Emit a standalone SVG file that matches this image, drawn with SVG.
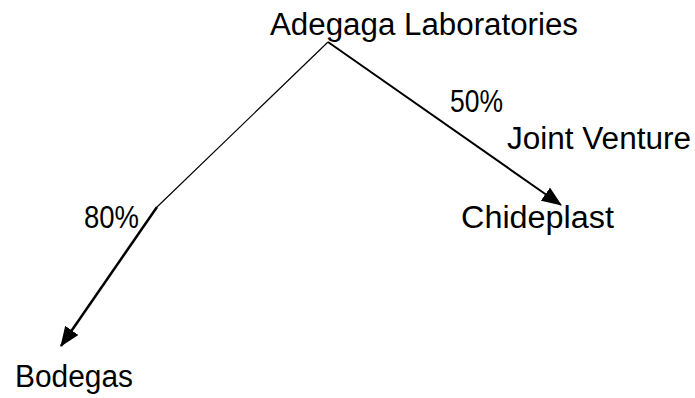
<svg xmlns="http://www.w3.org/2000/svg" width="695" height="398" viewBox="0 0 695 398">
<style>
.t{font-family:"Liberation Sans",Arial,sans-serif;font-size:31px;fill:#000}
.c{stroke:#000;fill:none}
</style>
<defs>
<marker id="ahL" markerWidth="20" markerHeight="16" refX="19" refY="8" orient="auto" markerUnits="userSpaceOnUse" viewBox="0 0 20 16">
<path d="M0,0 L20,8 L0,16 Z" fill="#000"/>
</marker>
</defs>
<rect width="695" height="398" fill="#fff"/>
<g id="connectors">
<line class="c" x1="328" y1="42" x2="157" y2="207" stroke-width="1.2"/>
<line class="c" x1="157" y1="207" x2="61" y2="346" stroke-width="2.5" marker-end="url(#ahL)"/>
<line class="c" x1="328" y1="42" x2="561" y2="205" stroke-width="2" marker-end="url(#ahL)"/>
</g>
<g id="node-adegaga"><text class="t" x="270" y="35" textLength="308" lengthAdjust="spacingAndGlyphs">Adegaga Laboratories</text></g>
<g id="label-50"><text class="t" x="450" y="112" textLength="53" lengthAdjust="spacingAndGlyphs">50%</text></g>
<g id="label-jv"><text class="t" x="507" y="149" textLength="184" lengthAdjust="spacingAndGlyphs">Joint Venture</text></g>
<g id="node-chideplast"><text class="t" x="461" y="228" textLength="153" lengthAdjust="spacingAndGlyphs">Chideplast</text></g>
<g id="label-80"><text class="t" x="84" y="228" textLength="55" lengthAdjust="spacingAndGlyphs">80%</text></g>
<g id="node-bodegas"><text class="t" x="15" y="387" textLength="118" lengthAdjust="spacingAndGlyphs">Bodegas</text></g>
</svg>
